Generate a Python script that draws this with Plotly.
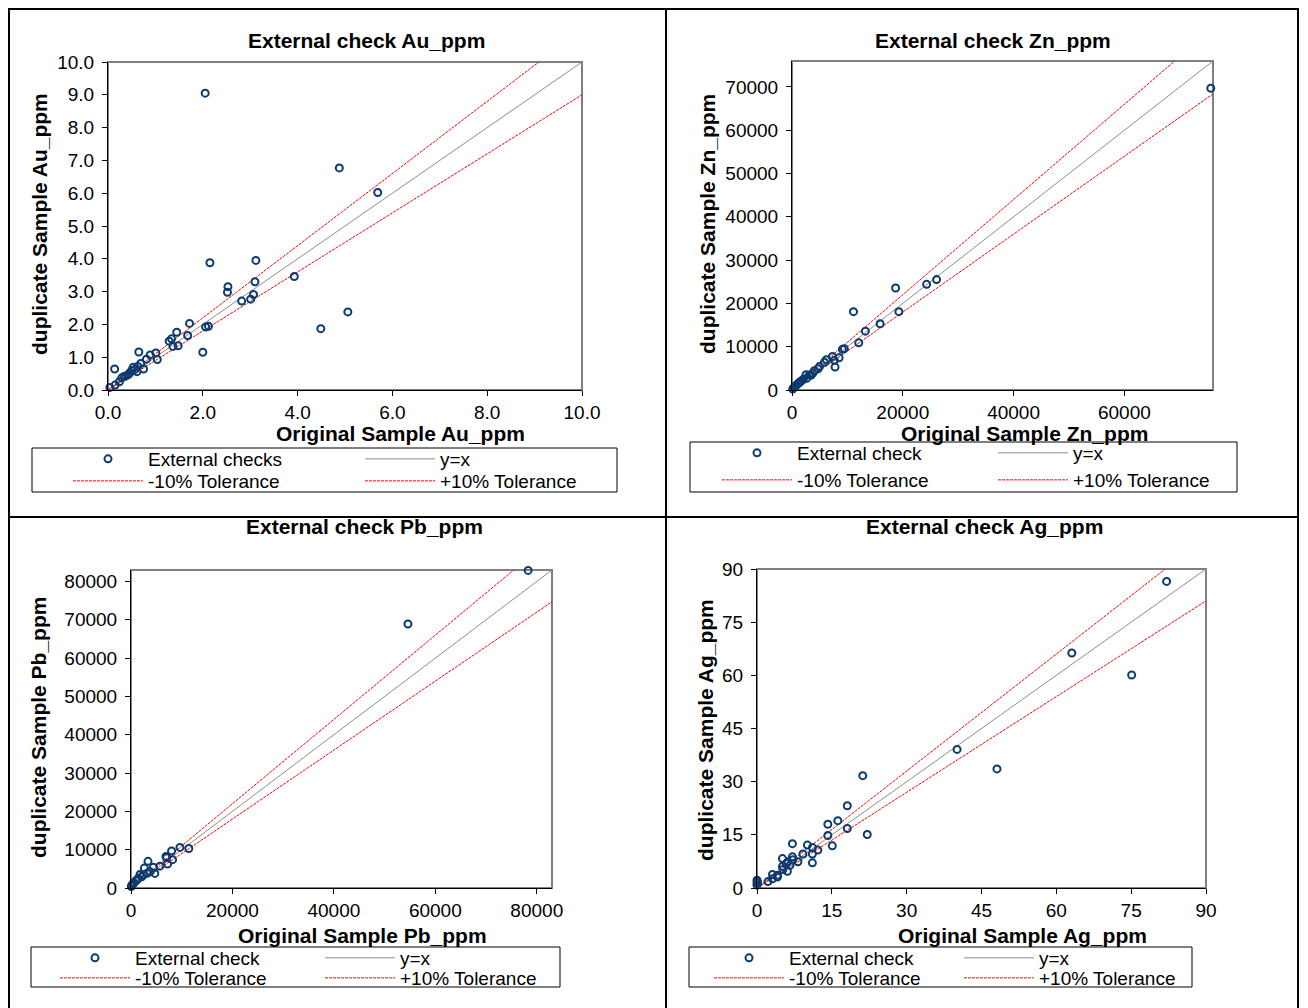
import plotly.graph_objects as go

FW, FH = 1300, 1000   # figure size; page offset of 8px makes it fill the 1308x1008 window
OFF = 8
FONT = "Liberation Sans, Arial, sans-serif"

# ---------------- data ----------------
au_orig = [2.05, 4.88, 5.69, 2.15, 3.12, 3.93, 2.53, 2.52, 3.10, 2.82, 3.01, 3.07, 5.06, 4.49,
           1.72, 2.06, 2.12, 1.45, 1.68, 1.29, 1.34, 1.37, 1.48, 2.00, 0.65, 1.01, 0.89, 1.04,
           0.81, 0.14, 0.69, 0.75, 0.53, 0.57, 0.61, 0.50, 0.46, 0.43, 0.63, 0.38, 0.29, 0.34,
           0.24, 0.15, 0.04]
au_dup = [9.05, 6.77, 6.02, 3.88, 3.95, 3.46, 3.15, 2.98, 3.30, 2.71, 2.77, 2.91, 2.38, 1.87,
          2.03, 1.92, 1.94, 1.76, 1.66, 1.49, 1.56, 1.33, 1.35, 1.15, 1.16, 1.13, 1.07, 0.93,
          0.94, 0.64, 0.81, 0.64, 0.69, 0.63, 0.56, 0.60, 0.52, 0.47, 0.72, 0.43, 0.37, 0.41,
          0.25, 0.15, 0.08]

zn_orig = [75600, 18700, 24300, 26100, 11100, 19300, 15900, 13250, 12050, 9450, 9100, 7300,
           8500, 7650, 7770, 6200, 5850, 4950, 4700, 4030, 3740, 2530, 3130, 3430, 2650, 2040,
           1740, 1520, 1330, 1110, 850, 610, 370, 130]
zn_dup = [69700, 23550, 24400, 25500, 18100, 18100, 15300, 13600, 10900, 9550, 9400, 7750,
          7450, 6850, 5300, 7000, 6400, 5400, 4900, 4450, 3850, 3550, 3450, 3380, 2690, 2460,
          2150, 1920, 1690, 1540, 1150, 920, 620, 230]

pb_orig = [78300, 54600, 9650, 11400, 8000, 6900, 7030, 8200, 7200, 3350, 5700, 2630, 4400,
           4700, 3750, 3150, 1770, 2430, 2100, 1440, 1120, 990, 590, 460, 200, 50]
pb_dup = [82900, 68900, 10600, 10300, 9650, 8250, 7900, 7400, 6250, 6950, 5700, 5200, 5400,
          3800, 4250, 3820, 3550, 3390, 2950, 2520, 2080, 1910, 1390, 1130, 780, 400]

ag_orig = [82.1, 63.1, 75.1, 40.1, 48.1, 21.2, 18.1, 16.2, 14.2, 18.1, 22.1, 14.2, 15.1, 7.1,
           10.1, 11.1, 12.2, 9.2, 11.1, 8.2, 11.1, 5.1, 7.1, 7.2, 6.2, 5.9, 6.6, 5.1, 6.1, 5.2,
           4.1, 3.1, 4.1, 3.1, 2.2, 0.0, 0.0, 0.0, 0.1]
ag_dup = [86.5, 66.3, 60.1, 39.1, 33.6, 31.7, 23.2, 19.0, 18.0, 16.8, 15.1, 14.8, 11.9, 12.5,
          12.1, 11.4, 10.7, 9.6, 9.6, 7.4, 7.1, 8.3, 8.8, 8.0, 7.4, 6.9, 6.4, 6.1, 4.7, 5.2,
          3.6, 3.8, 3.1, 2.6, 1.8, 2.2, 1.4, 0.8, 1.7]

elements = ["Au", "Zn", "Pb", "Ag"]
axis_max = [10, 76000, 83000, 90]
x_dtick = [2, 20000, 20000, 15]
y_dtick = [1, 10000, 10000, 15]
tick_fmt = [".1f", "d", "d", "d"]
point_names = ["External checks", "External check", "External check", "External check"]
ref_names = ["y=x", "-10% Tolerance", "+10% Tolerance"]
ref_factor = [1.0, 0.9, 1.1]

# ---------------- layout geometry (window pixels) ----------------
def fx(p):
    return (p - OFF) / FW

def fy(p):
    return 1 - (p - OFF) / FH

plot_box = [(108, 582, 62, 390), (792, 1213, 61, 390), (131, 552, 570, 888), (757, 1206, 569, 888)]
title_pos = [(366, 40), (993, 40), (364, 526), (985, 526)]
xtitle_pos = [(400, 433), (1024, 433), (362, 935), (1022, 935)]
ytitle_pos = [(40, 224), (708, 224), (38, 728), (705, 730)]
legend_box = [(32, 617, 448, 492), (690, 1237, 442, 492), (31, 560, 947, 987), (689, 1192, 947, 987)]
legend_cols = [(73, 365), (722, 998), (60, 325), (714, 964)]
legend_rows = [(459, 481), (453, 480), (958, 978), (958, 978)]

NAVY = "#0b3b6f"
ref_style = [dict(color="#8c8c8c", width=1),
             dict(color="#ff0000", width=1, dash="3px,1px"),
             dict(color="#ff0000", width=1, dash="3px,1px")]

data = [(au_orig, au_dup), (zn_orig, zn_dup), (pb_orig, pb_dup), (ag_orig, ag_dup)]

fig = go.Figure()
layout = dict(
    width=FW, height=FH,
    margin=dict(l=0, r=0, t=0, b=0, autoexpand=False),
    paper_bgcolor="white", plot_bgcolor="white",
    font=dict(family=FONT, color="black"),
    showlegend=True,
    shapes=[], annotations=[],
)

leg_n = 0
def next_legend():
    global leg_n
    leg_n += 1
    return "legend" if leg_n == 1 else f"legend{leg_n}"

def legend_layout(sx, sy):
    return dict(x=fx(sx - 5), y=fy(sy), xanchor="left", yanchor="middle",
                bgcolor="rgba(0,0,0,0)", borderwidth=0, itemwidth=70,
                font=dict(family=FONT, size=19, color="black"))

for i, el in enumerate(elements):
    n = "" if i == 0 else str(i + 1)
    xa, ya = "x" + n, "y" + n
    x0, x1, y0, y1 = plot_box[i]
    m = axis_max[i]
    xs, ys = data[i]
    (c1, c2) = legend_cols[i]
    (r1, r2) = legend_rows[i]
    # legend slots: points (c1,r1), y=x (c2,r1), -10 (c1,r2), +10 (c2,r2)
    slots = [(c1, r1), (c2, r1), (c1, r2), (c2, r2)]
    names = [point_names[i]] + ref_names

    for k in range(3):
        lg = next_legend()
        sx, sy = slots[k + 1]
        fig.add_trace(go.Scatter(
            x=[0, m], y=[0, m * ref_factor[k]], mode="lines", name=names[k + 1],
            line=ref_style[k], xaxis=xa, yaxis=ya, legend=lg, hoverinfo="skip"))
        layout[lg] = legend_layout(sx, sy)
    lg = next_legend()
    sx, sy = slots[0]
    fig.add_trace(go.Scatter(
        x=xs, y=ys, mode="markers", name=names[0], cliponaxis=False,
        marker=dict(symbol="circle-open", size=7, color=NAVY, line=dict(width=2, color=NAVY)),
        xaxis=xa, yaxis=ya, legend=lg))
    layout[lg] = legend_layout(sx, sy)

    axcommon = dict(showgrid=False, zeroline=False, showline=True, linecolor="black",
                    linewidth=1, ticks="outside", ticklen=5, tickcolor="black",
                    tickfont=dict(family=FONT, size=19, color="black"), automargin=False,
                    tickformat=tick_fmt[i], range=[0, m], tick0=0, fixedrange=True)
    layout["xaxis" + n] = dict(axcommon, domain=[fx(x0), fx(x1)], anchor=ya, dtick=x_dtick[i])
    layout["yaxis" + n] = dict(axcommon, domain=[fy(y1), fy(y0)], anchor=xa, dtick=y_dtick[i],
                               ticklabelstandoff=4)

    # plot area border (grey)
    layout["shapes"].append(dict(type="rect", xref="paper", yref="paper",
                                 x0=fx(x0), x1=fx(x1), y0=fy(y1), y1=fy(y0),
                                 line=dict(color="#808080", width=2), layer="below"))
    # legend box
    lx0, lx1, ly0, ly1 = legend_box[i]
    layout["shapes"].append(dict(type="rect", xref="paper", yref="paper",
                                 x0=fx(lx0), x1=fx(lx1), y0=fy(ly1), y1=fy(ly0),
                                 line=dict(color="black", width=1)))
    # titles
    ann = dict(xref="paper", yref="paper", showarrow=False, xanchor="center", yanchor="middle",
               font=dict(family=FONT, size=21, color="black"))
    tx, ty = title_pos[i]
    layout["annotations"].append(dict(ann, text=f"<b>External check {el}_ppm</b>", x=fx(tx), y=fy(ty)))
    tx, ty = xtitle_pos[i]
    layout["annotations"].append(dict(ann, text=f"<b>Original Sample {el}_ppm</b>", x=fx(tx), y=fy(ty)))
    tx, ty = ytitle_pos[i]
    layout["annotations"].append(dict(ann, text=f"<b>duplicate Sample {el}_ppm</b>", x=fx(tx), y=fy(ty),
                                      textangle=-90))

# table frame lines (window pixels)
frame = [(9, 8, 9, FH + OFF), (666, 8, 666, FH + OFF), (1298, 8, 1298, FH + OFF),
         (9, 9, 1298, 9), (9, 517, 1298, 517)]
for (a, b, c, d) in frame:
    layout["shapes"].append(dict(type="line", xref="paper", yref="paper",
                                 x0=fx(a), y0=fy(b), x1=fx(c), y1=fy(d),
                                 line=dict(color="black", width=2)))

fig.update_layout(**layout)
fig.write_html("out.html")
